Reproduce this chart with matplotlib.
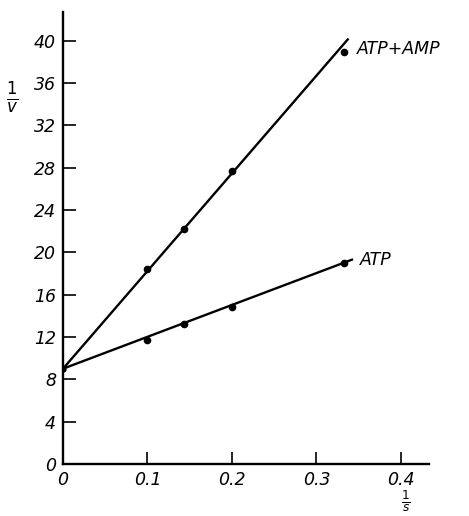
import matplotlib.pyplot as plt

# measured points (1/s, 1/v)
inv_s = [0.1, 0.143, 0.2, 0.333]
atp_amp = [18.4, 22.2, 27.7, 38.9]
atp = [11.7, 13.2, 14.8, 19.0]

# drawn regression lines: common intercept, end points
intercept = 9.0
amp_line_end = (0.337, 40.1)
atp_line_end = (0.342, 19.3)

xticks = [0, 0.1, 0.2, 0.3, 0.4]
xticklabels = ['0', '0.1', '0.2', '0.3', '0.4']
yticks = [0, 4, 8, 12, 16, 20, 24, 28, 32, 36, 40]

plt.rcParams['font.family'] = 'DejaVu Sans'
plt.rcParams['mathtext.fontset'] = 'dejavusans'

fig = plt.figure(figsize=(4.69, 5.16), dpi=100)
ax = fig.add_axes([0.1343, 0.1008, 0.780, 0.876])

ax.plot([0, amp_line_end[0]], [intercept, amp_line_end[1]], color='black', lw=1.7)
ax.plot([0, atp_line_end[0]], [intercept, atp_line_end[1]], color='black', lw=1.7)
ax.plot(inv_s, atp_amp, 'o', color='black', markersize=4.5)
ax.plot(inv_s, atp, 'o', color='black', markersize=4.5)
ax.plot([0], [intercept], 'o', color='black', markersize=3.5)

ax.text(0.348, 39.2, 'ATP+AMP', fontsize=12.5, style='italic', va='center', ha='left')
ax.text(0.352, 19.3, 'ATP', fontsize=12.5, style='italic', va='center', ha='left')

ax.set_xlim(0, 0.433)
ax.set_ylim(0, 42.7)
ax.set_xticks(xticks)
ax.set_xticklabels(xticklabels, style='italic', fontsize=12.5)
ax.set_yticks(yticks)
ax.set_yticklabels([str(t) for t in yticks], style='italic', fontsize=12.5)
ax.tick_params(direction='in', length=9, width=1.2, pad=5)

for side in ['top', 'right']:
    ax.spines[side].set_visible(False)
for side in ['left', 'bottom']:
    ax.spines[side].set_linewidth(1.7)

fig.text(12 / 469, 1 - 98 / 516, r'$\frac{\mathit{1}}{\mathit{v}}$', fontsize=17, ha='center', va='center')
fig.text(406 / 469, 1 - 501 / 516, r'$\frac{\mathit{1}}{\mathit{s}}$', fontsize=12.5, ha='center', va='center')

fig.savefig('out.png', dpi=100)
